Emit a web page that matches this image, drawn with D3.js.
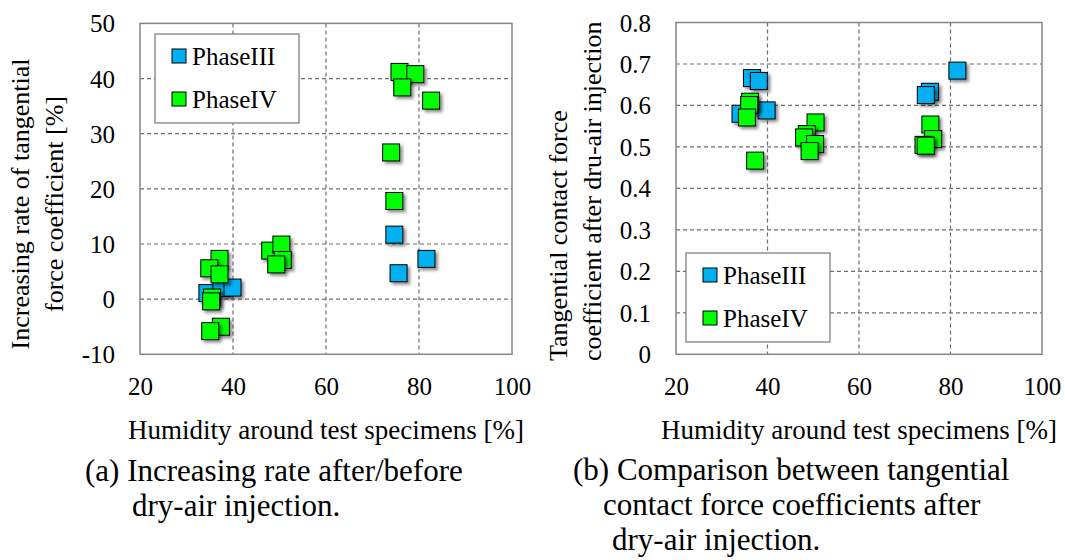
<!DOCTYPE html>
<html>
<head>
<meta charset="utf-8">
<script src="https://cdn.jsdelivr.net/npm/d3@7"></script>
<style>
  html, body { margin: 0; padding: 0; background: #fff; }
  svg { display: block; font-family: "Liberation Serif", "Times New Roman", serif; }
</style>
</head>
<body>
<svg id="chart" width="1065" height="560"></svg>
<script>
// humidity [%] for each specimen
const rateP3Hum = [34.5, 37.5, 39.9, 74.7, 81.6, 75.6];
const rateP3Val = [1.1, 2.0, 2.1, 11.7, 7.3, 4.7];
const rateP4Hum = [37.1, 34.9, 37.1, 35.5, 35.3, 37.4, 35.1, 48.0, 50.4, 50.7, 49.3, 75.8, 79.2, 76.4, 82.6, 74.0, 74.7];
const rateP4Val = [7.3, 5.6, 4.5, 0.3, -0.4, -5.0, -5.8, 8.8, 9.9, 7.1, 6.3, 41.2, 40.8, 38.4, 36.0, 26.6, 17.8];

const coefP3Hum = [34.1, 36.6, 38.1, 39.8, 75.5, 74.6, 81.5];
const coefP3Val = [0.580, 0.666, 0.659, 0.588, 0.633, 0.625, 0.684];
const coefP4Hum = [36.2, 36.0, 35.5, 37.3, 50.5, 48.6, 48.0, 50.4, 49.2, 75.6, 76.2, 74.1, 74.6];
const coefP4Val = [0.609, 0.601, 0.571, 0.467, 0.559, 0.531, 0.523, 0.507, 0.490, 0.554, 0.519, 0.505, 0.503];

const humTicks = [20, 40, 60, 80, 100];
const rateTicks = [-10, 0, 10, 20, 30, 40, 50];
const coefTicks = [0, 0.1, 0.2, 0.3, 0.4, 0.5, 0.6, 0.7, 0.8];

const seriesNames = ['PhaseIII', 'PhaseIV'];
const seriesColors = ['#00b0f0', '#00ff00'];

const svg = d3.select('#chart');
const MS = 17; // marker size

svg.append('defs').append('filter')
  .attr('id', 'shadow')
  .attr('x', '-50%').attr('y', '-50%')
  .attr('width', '200%').attr('height', '200%')
  .append('feDropShadow')
  .attr('dx', 2.5).attr('dy', 2.5)
  .attr('stdDeviation', 1.6)
  .attr('flood-color', '#000')
  .attr('flood-opacity', 0.45);

function zip(xs, ys) { return xs.map((x, i) => [x, ys[i]]); }

function drawPanel(p) {
  const g = svg.append('g');
  const x = d3.scaleLinear().domain([20, 100]).range([p.x0, p.x1]);
  const y = d3.scaleLinear().domain(p.yDomain).range([p.y1, p.y0]);

  // dashed grid
  g.append('g').selectAll('line')
    .data(humTicks.slice(1, -1))
    .join('line')
    .attr('x1', d => x(d)).attr('x2', d => x(d))
    .attr('y1', p.y0).attr('y2', p.y1)
    .attr('stroke', '#6e6e6e').attr('stroke-width', 1.2)
    .attr('stroke-dasharray', '4,3');
  g.append('g').selectAll('line')
    .data(p.yTicks.slice(1, -1))
    .join('line')
    .attr('x1', p.x0).attr('x2', p.x1)
    .attr('y1', d => y(d)).attr('y2', d => y(d))
    .attr('stroke', '#6e6e6e').attr('stroke-width', 1.2)
    .attr('stroke-dasharray', '4,3');

  g.append('rect')
    .attr('x', p.x0).attr('y', p.y0)
    .attr('width', p.x1 - p.x0).attr('height', p.y1 - p.y0)
    .attr('fill', 'none').attr('stroke', '#858585').attr('stroke-width', 1.5);

  // axes (labels only, frame is drawn above)
  const xa = g.append('g')
    .attr('transform', `translate(0,${p.y1})`)
    .call(d3.axisBottom(x).tickValues(humTicks).tickSize(0).tickPadding(23).tickFormat(d => String(d)));
  const ya = g.append('g')
    .attr('transform', `translate(${p.x0},0)`)
    .call(d3.axisLeft(y).tickValues(p.yTicks).tickSize(0).tickPadding(25).tickFormat(p.fmt));
  [xa, ya].forEach(a => {
    a.select('.domain').remove();
    a.selectAll('text')
      .attr('font-family', '"Liberation Serif", serif')
      .attr('font-size', 25).attr('fill', '#000');
  });
  ya.selectAll('text').attr('dy', '0.34em');
  xa.selectAll('text').attr('dy', '0.71em');

  // markers
  p.series.forEach((s, si) => {
    g.append('g').selectAll('rect')
      .data(s)
      .join('rect')
      .attr('x', d => x(d[0]) - MS/2)
      .attr('y', d => y(d[1]) - MS/2)
      .attr('width', MS).attr('height', MS)
      .attr('fill', seriesColors[si])
      .attr('stroke', '#000').attr('stroke-width', 1)
      .attr('filter', 'url(#shadow)');
  });

  // legend
  const lg = g.append('g').attr('transform', `translate(${p.leg[0]},${p.leg[1]})`);
  lg.append('rect')
    .attr('width', 144).attr('height', 89)
    .attr('fill', '#fff').attr('stroke', '#808080').attr('stroke-width', 1.3);
  seriesNames.forEach((n, i) => {
    lg.append('rect')
      .attr('x', 17).attr('y', 15 + i*43)
      .attr('width', 14).attr('height', 14)
      .attr('fill', seriesColors[i]).attr('stroke', '#000').attr('stroke-width', 1);
    lg.append('text')
      .attr('x', 37).attr('y', 31 + i*43)
      .attr('font-size', 25)
      .text(n);
  });

  // x title
  g.append('text')
    .attr('x', (p.x0 + p.x1)/2).attr('y', 439)
    .attr('text-anchor', 'middle')
    .attr('font-size', 27)
    .text('Humidity around test specimens [%]');

  // y title
  p.yTitle.forEach((t, i) => {
    g.append('text')
      .attr('transform', `translate(${p.yTitleX + i*34},${p.yTitleY}) rotate(-90)`)
      .attr('text-anchor', p.yTitleAnchor)
      .attr('font-size', 26)
      .text(t);
  });

  // caption
  p.caption.forEach((c, i) => {
    svg.append('text')
      .attr('x', c[1]).attr('y', p.capY + i*35)
      .attr('font-size', 31)
      .text(c[0]);
  });
}

drawPanel({
  x0: 140, x1: 512, y0: 23.4, y1: 354.3,
  yDomain: [-10, 50], yTicks: rateTicks, fmt: d => String(d),
  series: [zip(rateP3Hum, rateP3Val), zip(rateP4Hum, rateP4Val)],
  leg: [155, 34],
  yTitle: ['Increasing rate of tangential', 'force coefficient [%]'],
  yTitleX: 29, yTitleY: 204, yTitleAnchor: 'middle',
  caption: [['(a) Increasing rate after/before', 85], ['dry-air injection.', 132]],
  capY: 481,
});

drawPanel({
  x0: 676, x1: 1042, y0: 22.5, y1: 354.3,
  yDomain: [0, 0.8], yTicks: coefTicks, fmt: d => d === 0 ? '0' : d3.format('.1f')(d),
  series: [zip(coefP3Hum, coefP3Val), zip(coefP4Hum, coefP4Val)],
  leg: [686, 253],
  yTitle: ['Tangential contact force', 'coefficient after dru-air injection'],
  yTitleX: 567, yTitleY: 361, yTitleAnchor: 'start',
  caption: [['(b) Comparison between tangential', 573], ['contact force coefficients after', 603], ['dry-air injection.', 612]],
  capY: 480,
});
</script>
</body>
</html>
